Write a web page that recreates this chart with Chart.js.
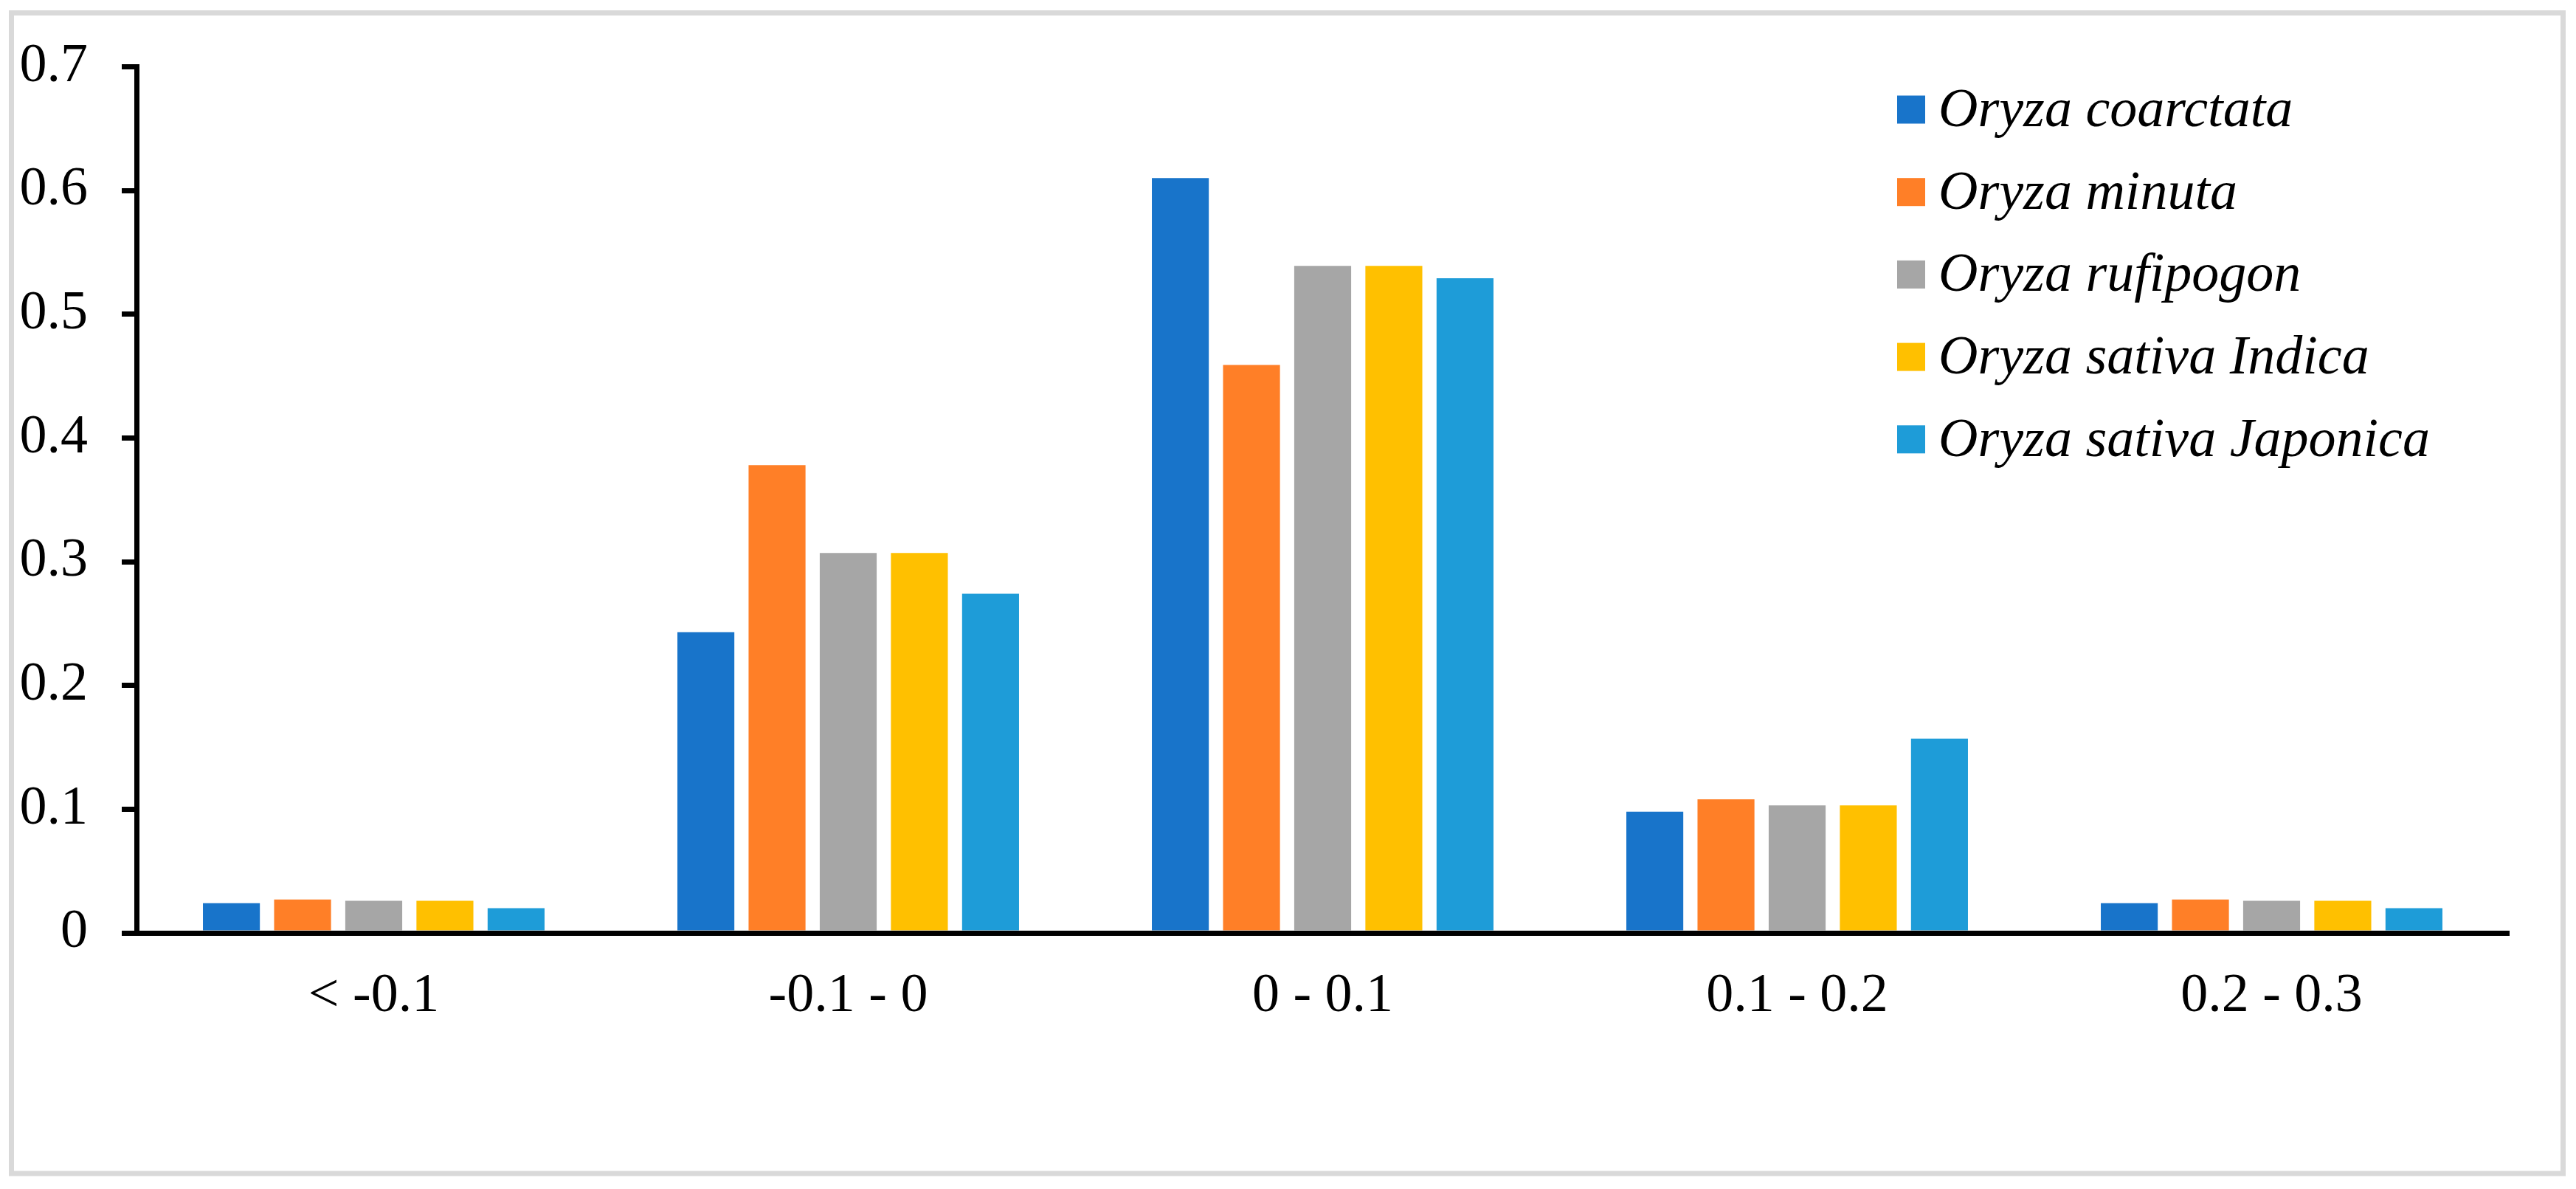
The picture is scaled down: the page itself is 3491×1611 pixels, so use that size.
<!DOCTYPE html>
<html lang="en">
<head>
    <meta charset="UTF-8">
    <title>Oryza distribution</title>
    <style>
        body { margin: 0; background: #fff; }
        #chart { display: block; }
    </style>
</head>
<body>
    <canvas id="chart" width="3491" height="1611"></canvas>

    <script src="https://cdn.jsdelivr.net/npm/chart.js"></script>
    <script>
        // categories and tick values
        const categories = ["< -0.1", "-0.1 - 0", "0 - 0.1", "0.1 - 0.2", "0.2 - 0.3"];
        const yTicks = [0, 0.1, 0.2, 0.3, 0.4, 0.5, 0.6, 0.7];

        // series values
        const coarctata = [0.024, 0.243, 0.610, 0.098, 0.024];
        const minuta    = [0.027, 0.378, 0.459, 0.108, 0.027];
        const rufipogon = [0.026, 0.307, 0.539, 0.103, 0.026];
        const indica    = [0.026, 0.307, 0.539, 0.103, 0.026];
        const japonica  = [0.020, 0.274, 0.529, 0.157, 0.020];

        const seriesNames = ["Oryza coarctata", "Oryza minuta", "Oryza rufipogon", "Oryza sativa Indica", "Oryza sativa Japonica"];
        const seriesColors = ["#1874CA", "#FF7F27", "#A6A6A6", "#FFC000", "#1E9CD8"];
        const seriesValues = [coarctata, minuta, rufipogon, indica, japonica];

        const FONT = "'Liberation Serif', 'Times New Roman', serif";

        // white background + grey frame around the whole figure
        const framePlugin = {
            id: 'frame',
            beforeDraw(chart) {
                const ctx = chart.ctx;
                ctx.save();
                ctx.fillStyle = '#fff';
                ctx.fillRect(0, 0, chart.width, chart.height);
                ctx.strokeStyle = '#D9D9D9';
                ctx.lineWidth = 7;
                ctx.strokeRect(15.5, 17.5, 3458, 1572.5);
                ctx.restore();
            }
        };

        // legend drawn inside the plot, top right, italic names
        const legendPlugin = {
            id: 'inLegend',
            afterDraw(chart) {
                const ctx = chart.ctx;
                ctx.save();
                ctx.font = "italic 74px " + FONT;
                ctx.textBaseline = 'middle';
                ctx.textAlign = 'left';
                chart.data.datasets.forEach((ds, i) => {
                    const cy = 148.5 + i * 111.7;
                    ctx.fillStyle = ds.backgroundColor;
                    ctx.fillRect(2571, cy - 19, 38, 38);
                    ctx.fillStyle = '#000';
                    ctx.fillText(ds.label, 2627, cy + 3);
                });
                ctx.restore();
            }
        };

        new Chart(document.getElementById("chart"), {
            type: 'bar',
            data: {
                labels: categories,
                datasets: seriesNames.map((name, i) => ({
                    label: name,
                    data: seriesValues[i],
                    backgroundColor: seriesColors[i],
                    borderWidth: 0,
                    categoryPercentage: 0.75,
                    barPercentage: 0.8
                }))
            },
            options: {
                responsive: false,
                animation: false,
                devicePixelRatio: 1,
                layout: { padding: { top: 90, right: 91, left: 0, bottom: 0 } },
                plugins: {
                    legend: { display: false },
                    tooltip: { enabled: false }
                },
                scales: {
                    x: {
                        grid: { display: false, drawTicks: false, tickLength: 0 },
                        border: { display: true, color: '#000', width: 7, z: 1 },
                        ticks: {
                            color: '#000',
                            font: { family: FONT, size: 74 },
                            padding: 42,
                            maxRotation: 0
                        },
                        afterFit(scale) { scale.height = 347; }
                    },
                    y: {
                        min: 0,
                        max: 0.7,
                        afterBuildTicks(scale) { scale.ticks = yTicks.map(v => ({ value: v })); },
                        grid: {
                            drawOnChartArea: false,
                            drawTicks: true,
                            tickLength: 20,
                            lineWidth: 7,
                            color: '#000'
                        },
                        border: { display: true, color: '#000', width: 7 },
                        ticks: {
                            color: '#000',
                            font: { family: FONT, size: 74 },
                            padding: 46,
                            callback: v => String(+v.toFixed(1))
                        },
                        afterFit(scale) { scale.width = 185; }
                    }
                }
            },
            plugins: [framePlugin, legendPlugin]
        });
    </script>
</body>
</html>
